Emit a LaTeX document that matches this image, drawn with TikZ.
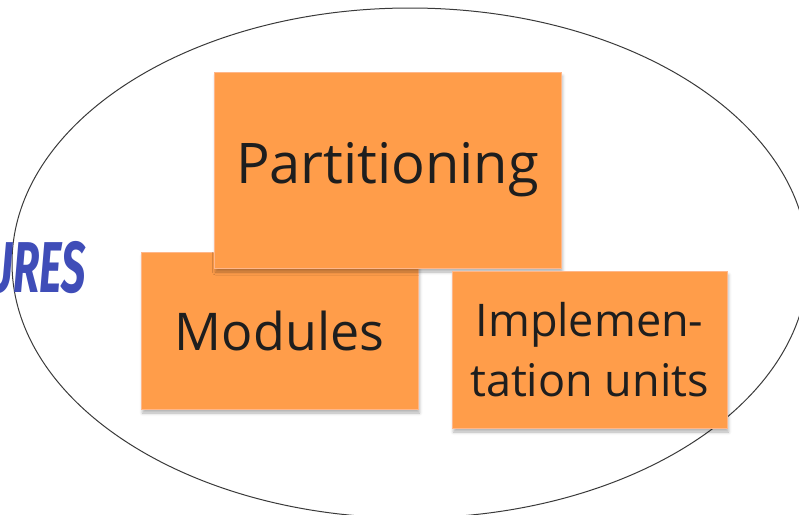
\documentclass[tikz,border=0pt]{standalone}
\usepackage{fontspec}
\usepackage{graphicx}
\setmainfont{Open Sans}
\newfontfamily\headfont{Fira Sans}
\usetikzlibrary{shadows.blur,shapes.geometric}
\definecolor{notefill}{HTML}{FF9D4A}
\definecolor{noteedge}{HTML}{FFB78A}
\definecolor{notetext}{HTML}{1E1E1E}
\definecolor{ringline}{HTML}{3A3A3A}
\definecolor{titleblue}{HTML}{3F4DB8}
\begin{document}
\begin{tikzpicture}[x=1pt,y=-1pt,
  note/.style={fill=notefill, draw=noteedge, line width=0.5pt,
    blur shadow={shadow xshift=1.5pt, shadow yshift=-4pt,
      shadow blur radius=3pt, shadow opacity=30},
    text=notetext, align=center, inner sep=0pt},
  ring/.style={draw=ringline, line width=1pt, ellipse, inner sep=0pt}]
\useasboundingbox (0,0) rectangle (799,514);
\clip (0,0) rectangle (799,514);

% outer boundary
\node[ring, minimum width=796pt, minimum height=510pt] (boundary) at (410,263) {};

% heading fragment on the left
\node[anchor=base east, inner sep=0pt, text=titleblue] (heading) at (86,292)
  {\headfont\bfseries\itshape\fontsize{72}{72}\selectfont\scalebox{0.6}[1]{URES}};

% sticky notes
\node[note, minimum width=277pt, minimum height=157pt,
  font=\fontsize{52}{60}\selectfont] (modules) at (279.5,330.5) {Modules};
\node[note, minimum width=347pt, minimum height=196pt,
  font=\fontsize{56}{60}\selectfont] (partitioning) at (387.5,170) {\raisebox{-3pt}{Partitioning}};
\node[note, minimum width=275pt, minimum height=157pt,
  font=\fontsize{45}{60}\selectfont] (units) at (589.5,349.5) {Implemen-\\tation units};
\end{tikzpicture}
\end{document}
